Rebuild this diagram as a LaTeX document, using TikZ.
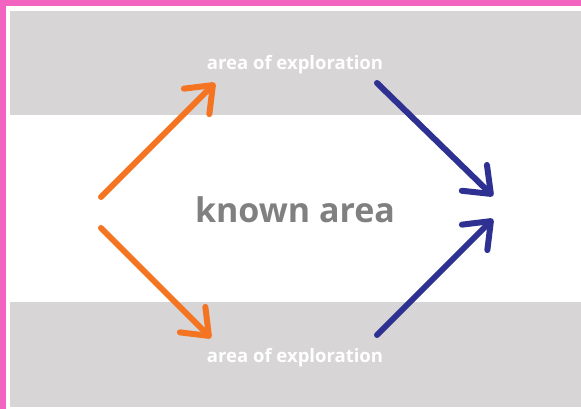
\documentclass[tikz,border=0pt]{standalone}
\usepackage{fontspec}
\setmainfont{Open Sans}
\usetikzlibrary{arrows.meta}
\definecolor{framepink}{HTML}{F264C0}
\definecolor{bandgray}{HTML}{D7D5D6}
\definecolor{labelgray}{HTML}{808080}
\definecolor{outorange}{HTML}{F47421}
\definecolor{inblue}{HTML}{2E3192}
\tikzset{
  band/.style={fill=bandgray, draw=none},
  bandlabel/.style={text=white, font=\bfseries\fontsize{18.5}{21}\selectfont, inner sep=0pt},
  centrelabel/.style={text=labelgray, font=\bfseries\fontsize{34}{38}\selectfont, inner sep=0pt},
  flow/.style={line width=6pt, line cap=round, line join=round,
    -{Straight Barb[length=23pt, width=36pt, line width=6pt, round]}},
  outflow/.style={flow, draw=outorange},
  inflow/.style={flow, draw=inblue},
}
\begin{document}
\begin{tikzpicture}[x=1pt, y=-1pt]
  % canvas and frame
  \useasboundingbox (0,0) rectangle (581,409);
  \fill[white] (0,0) rectangle (581,409);
  \fill[framepink] (0,0) rectangle (581,6);
  \fill[framepink] (0,0) rectangle (6,409);
  % bands
  \fill[band] (10,11) rectangle (581,115);
  \fill[band] (10,302) rectangle (581,407);
  % labels
  \node[bandlabel] (topzone) at (295,65) {area of exploration};
  \node[bandlabel] (botzone) at (295,358) {area of exploration};
  \node[centrelabel] (known) at (295,210) {known area};
  % arrow end points
  \coordinate (ostartA) at (101,197);
  \coordinate (otipA) at (215,83);
  \coordinate (ostartB) at (101,228);
  \coordinate (otipB) at (211,338);
  \coordinate (bstartA) at (377,83);
  \coordinate (btipA) at (493,196);
  \coordinate (bstartB) at (377,335);
  \coordinate (btipB) at (493,219);
  % arrows
  \draw[outflow] (ostartA) -- (otipA);
  \draw[outflow] (ostartB) -- (otipB);
  \draw[inflow] (bstartA) -- (btipA);
  \draw[inflow] (bstartB) -- (btipB);
\end{tikzpicture}
\end{document}
